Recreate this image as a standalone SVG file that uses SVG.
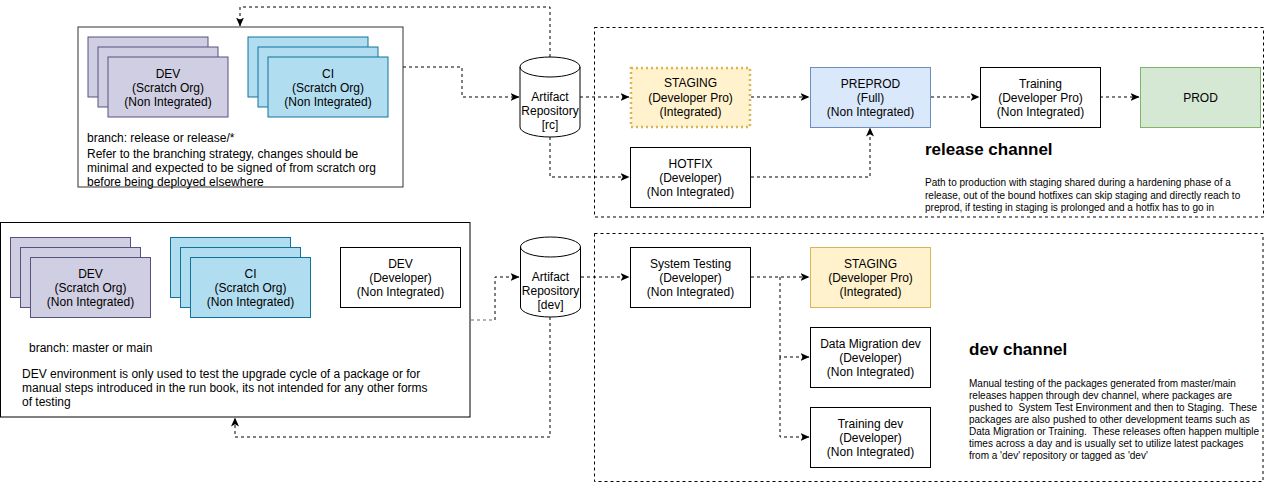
<svg xmlns="http://www.w3.org/2000/svg" width="1265" height="483" viewBox="0 0 1265 483">
<defs>
<marker id="ah" markerUnits="userSpaceOnUse" markerWidth="9" markerHeight="8" refX="8.5" refY="4" orient="auto">
<path d="M0,0 L9,4 L0,8 L2.2,4 Z" fill="#000"/>
</marker>
<style>
text{font-family:"Liberation Sans",Arial,sans-serif;font-size:12px;fill:#000}
.c{text-anchor:middle}
.b{font-weight:bold;font-size:17px}
.s{font-size:10px;white-space:pre}
.box{fill:#fff;stroke:#000;stroke-width:1}
.dev{fill:#d0cee2;stroke:#56517e;stroke-width:1}
.ci{fill:#b1ddf0;stroke:#10739e;stroke-width:1}
.edge{fill:none;stroke:#000;stroke-width:1;stroke-dasharray:3 3}
.cont{fill:none;stroke:#000;stroke-width:1;stroke-dasharray:3 3}
</style>
</defs>

<g id="connectors">
<path class="edge" d="M550,57 V7 H240 V26" marker-end="url(#ah)"/>
<path class="edge" d="M403,67 H462 V97 H519" marker-end="url(#ah)"/>
<path class="edge" d="M580,97 H629" marker-end="url(#ah)"/>
<path class="edge" d="M550,137 V177 H629" marker-end="url(#ah)"/>
<path class="edge" d="M751,97 H809" marker-end="url(#ah)"/>
<path class="edge" d="M931,97 H979" marker-end="url(#ah)"/>
<path class="edge" d="M1100,97 H1139" marker-end="url(#ah)"/>
<path class="edge" d="M751,177 H870 V128" marker-end="url(#ah)"/>
<path class="edge" d="M471,320 H495" style="stroke:#666"/>
<path class="edge" d="M495,320 V277 H519" marker-end="url(#ah)"/>
<path class="edge" d="M550,317 V437 H235 V418" marker-end="url(#ah)"/>
<path class="edge" d="M581,277 H629" marker-end="url(#ah)"/>
<path class="edge" d="M751,277 H809" marker-end="url(#ah)"/>
<path class="edge" d="M780,277 V357 H809" marker-end="url(#ah)"/>
<path class="edge" d="M780,357 V437 H809" marker-end="url(#ah)"/>
</g>

<g id="release-env">
<rect x="78" y="27" width="325" height="160" fill="#fff" stroke="#333" stroke-width="1"/>
<text x="87" y="142">branch: release or release/*</text>
<text x="87" y="158">Refer to the branching strategy, changes should be</text>
<text x="87" y="172">minimal and expected to be signed of from scratch org</text>
<text x="87" y="186">before being deployed elsewhere</text>
</g>
<g id="rc-dev-stack">
<rect class="dev" x="88" y="37" width="120" height="60"/>
<rect class="dev" x="98" y="47" width="120" height="60"/>
<rect class="dev" x="108" y="57" width="120" height="60"/>
<text class="c" x="168" y="78">DEV</text>
<text class="c" x="168" y="92">(Scratch Org)</text>
<text class="c" x="168" y="106">(Non Integrated)</text>
</g>
<g id="rc-ci-stack">
<rect class="ci" x="248" y="37" width="120" height="60"/>
<rect class="ci" x="258" y="47" width="120" height="60"/>
<rect class="ci" x="268" y="57" width="120" height="60"/>
<text class="c" x="328" y="78">CI</text>
<text class="c" x="328" y="92">(Scratch Org)</text>
<text class="c" x="328" y="106">(Non Integrated)</text>
</g>

<g id="artifact-rc">
<path d="M520,67 a30,10 0 0,1 60,0 v60 a30,10 0 0,1 -60,0 Z" fill="#fff" stroke="#000"/>
<path d="M520,67 a30,10 0 0,0 60,0" fill="none" stroke="#000"/>
<text class="c" x="550" y="101">Artifact</text>
<text class="c" x="550" y="115">Repository</text>
<text class="c" x="550" y="129">[rc]</text>
</g>

<g id="release-channel">
<rect class="cont" x="594.5" y="27.5" width="669" height="189.5"/>
<text class="b" x="925" y="155">release channel</text>
<text class="s" x="925" y="186">Path to production with staging shared during a hardening phase of a</text>
<text class="s" x="925" y="198.5">release, out of the bound hotfixes can skip staging and directly reach to</text>
<text class="s" x="925" y="211">preprod, if testing in staging is prolonged and a hotfix has to go in</text>
</g>

<g id="staging-rc">
<rect x="631" y="68" width="119" height="59" fill="#fff2cc" stroke="#d6b656" stroke-width="2.5" stroke-dasharray="2 3"/>
<text class="c" x="690.5" y="87">STAGING</text>
<text class="c" x="690.5" y="102">(Developer Pro)</text>
<text class="c" x="690.5" y="116">(Integrated)</text>
</g>
<g id="preprod">
<rect x="810.5" y="67.5" width="120" height="60" fill="#dae8fc" stroke="#6c8ebf"/>
<text class="c" x="870.5" y="88">PREPROD</text>
<text class="c" x="870.5" y="102">(Full)</text>
<text class="c" x="870.5" y="116">(Non Integrated)</text>
</g>
<g id="training-rc">
<rect class="box" x="980.5" y="67.5" width="120" height="60"/>
<text class="c" x="1040.5" y="88">Training</text>
<text class="c" x="1040.5" y="102">(Developer Pro)</text>
<text class="c" x="1040.5" y="116">(Non Integrated)</text>
</g>
<g id="prod">
<rect x="1140.5" y="67.5" width="120" height="60" fill="#d5e8d4" stroke="#82b366"/>
<text class="c" x="1200.5" y="102">PROD</text>
</g>
<g id="hotfix">
<rect class="box" x="630.5" y="147.5" width="120" height="60"/>
<text class="c" x="690.5" y="168">HOTFIX</text>
<text class="c" x="690.5" y="182">(Developer)</text>
<text class="c" x="690.5" y="196">(Non Integrated)</text>
</g>

<g id="main-env">
<rect class="box" x="0.5" y="222.5" width="469.5" height="194.5"/>
<text x="29" y="352">branch: master or main</text>
<text x="22" y="378">DEV environment is only used to test the upgrade cycle of a package or for</text>
<text x="22" y="392">manual steps introduced in the run book, its not intended for any other forms</text>
<text x="22" y="406">of testing</text>
</g>
<g id="main-dev-stack">
<rect class="dev" x="10.5" y="237.5" width="120" height="60"/>
<rect class="dev" x="20.5" y="247.5" width="120" height="60"/>
<rect class="dev" x="30.5" y="257.5" width="120" height="60"/>
<text class="c" x="90.5" y="278">DEV</text>
<text class="c" x="90.5" y="292">(Scratch Org)</text>
<text class="c" x="90.5" y="306">(Non Integrated)</text>
</g>
<g id="main-ci-stack">
<rect class="ci" x="170.5" y="237.5" width="120" height="60"/>
<rect class="ci" x="180.5" y="247.5" width="120" height="60"/>
<rect class="ci" x="190.5" y="257.5" width="120" height="60"/>
<text class="c" x="250.5" y="278">CI</text>
<text class="c" x="250.5" y="292">(Scratch Org)</text>
<text class="c" x="250.5" y="306">(Non Integrated)</text>
</g>
<g id="main-dev-developer">
<rect class="box" x="340.5" y="247.5" width="120" height="60"/>
<text class="c" x="400.5" y="268">DEV</text>
<text class="c" x="400.5" y="282">(Developer)</text>
<text class="c" x="400.5" y="296">(Non Integrated)</text>
</g>

<g id="artifact-dev">
<path d="M520.5,247 a30,10 0 0,1 60,0 v60 a30,10 0 0,1 -60,0 Z" fill="#fff" stroke="#000"/>
<path d="M520.5,247 a30,10 0 0,0 60,0" fill="none" stroke="#000"/>
<text class="c" x="550.5" y="281">Artifact</text>
<text class="c" x="550.5" y="295">Repository</text>
<text class="c" x="550.5" y="309">[dev]</text>
</g>

<g id="dev-channel">
<rect class="cont" x="594.5" y="233.5" width="668.5" height="248"/>
<text class="b" x="969" y="355">dev channel</text>
<text class="s" x="969" y="387">Manual testing of the packages generated from master/main</text>
<text class="s" x="969" y="399">releases happen through dev channel, where packages are</text>
<text class="s" x="969" y="411">pushed to  System Test Environment and then to Staging.  These</text>
<text class="s" x="969" y="423">packages are also pushed to other development teams such as</text>
<text class="s" x="969" y="435">Data Migration or Training.  These releases often happen multiple</text>
<text class="s" x="969" y="447">times across a day and is usually set to utilize latest packages</text>
<text class="s" x="969" y="459">from a 'dev' repository or tagged as 'dev'</text>
</g>

<g id="system-testing">
<rect class="box" x="630.5" y="247.5" width="120" height="60"/>
<text class="c" x="690.5" y="268">System Testing</text>
<text class="c" x="690.5" y="282">(Developer)</text>
<text class="c" x="690.5" y="296">(Non Integrated)</text>
</g>
<g id="staging-dev">
<rect x="810.5" y="247.5" width="120" height="60" fill="#fff2cc" stroke="#d6b656"/>
<text class="c" x="870.5" y="268">STAGING</text>
<text class="c" x="870.5" y="282">(Developer Pro)</text>
<text class="c" x="870.5" y="296">(Integrated)</text>
</g>
<g id="data-migration-dev">
<rect class="box" x="810.5" y="327.5" width="120" height="60"/>
<text class="c" x="870.5" y="348">Data Migration dev</text>
<text class="c" x="870.5" y="362">(Developer)</text>
<text class="c" x="870.5" y="376">(Non Integrated)</text>
</g>
<g id="training-dev">
<rect class="box" x="810.5" y="407.5" width="120" height="60"/>
<text class="c" x="870.5" y="428">Training dev</text>
<text class="c" x="870.5" y="442">(Developer)</text>
<text class="c" x="870.5" y="456">(Non Integrated)</text>
</g>
</svg>
